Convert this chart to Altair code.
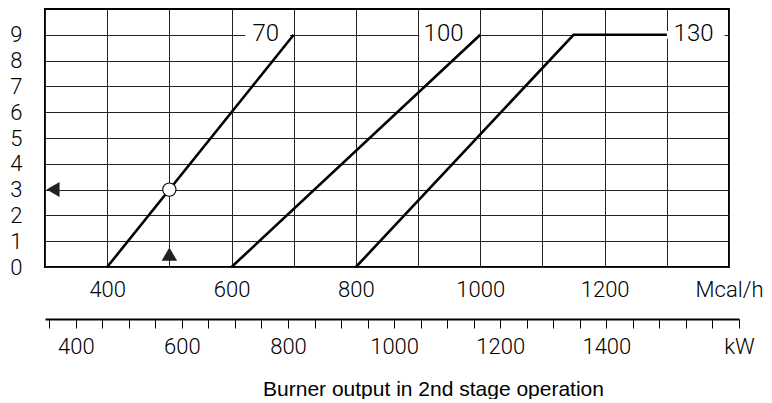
import altair as alt
import pandas as pd

# ---- data ----
series = ["70", "70", "100", "100", "130", "130", "130"]
mcal = [400, 700, 600, 1000, 800, 1150, 1300]
pressure = [0, 9, 0, 9, 0, 9, 9]

curve_labels = ["70", "100", "130"]
label_x = [655, 941, 1343]
label_y = [9, 9, 9]
gap_x1 = [622, 902, 1300]
gap_x2 = [694, 997, 1393]

circle_x, circle_y = [500], [3]
tri_left_x, tri_left_y = [313], [3]
tri_up_x, tri_up_y = [500], [0.5]

mcal_ticks = list(range(300, 1401, 100))
y_ticks = list(range(0, 10))
kw_ticks = list(range(350, 1651, 50))

FONT = "Roboto"
FW = 300
FS = 22

lines_df = pd.DataFrame({"series": series, "mcal": mcal, "p": pressure})
lab_df = pd.DataFrame({"t": curve_labels, "x": label_x, "y": label_y,
                       "x1": gap_x1, "x2": gap_x2})

xscale = alt.Scale(domain=[300, 1400], nice=False, zero=False)
yscale = alt.Scale(domain=[0, 10], nice=False, zero=True)

xaxis = alt.Axis(
    values=mcal_ticks, format="d", title=None,
    labelExpr="datum.value == 1400 ? 'Mcal/h' : ((datum.value % 200 == 0 && datum.value <= 1200) ? datum.label : '')",
    grid=True, gridColor="#222", gridWidth=1, domain=False, ticks=False,
    labelFont=FONT, labelFontWeight=FW, labelFontSize=FS, labelColor="#000",
    labelPadding=12, labelOverlap=False, labelFlush=False, labelBound=False,
)
yaxis = alt.Axis(
    values=y_ticks, title=None,
    grid=True, gridColor="#222", gridWidth=1, domain=False, ticks=False,
    labelFont=FONT, labelFontWeight=FW, labelFontSize=FS, labelColor="#000",
    labelPadding=23, labelOverlap=False, labelFlush=False, labelBound=False,
)


def X(field):
    return alt.X(field, scale=xscale, axis=xaxis, title=None)


def Y(field):
    return alt.Y(field, scale=yscale, axis=yaxis, title=None)


gaps = alt.Chart(lab_df).transform_calculate(
    ylo="datum.y - 0.15", yhi="datum.y + 0.15"
).mark_rect(color="white").encode(
    x=X("x1:Q"), x2="x2:Q", y=Y("ylo:Q"), y2="yhi:Q",
)

base_lines = alt.Chart(lines_df).mark_line(color="black", strokeWidth=2.6).encode(
    x=X("mcal:Q"), y=Y("p:Q"), detail="series:N",
)

texts = alt.Chart(lab_df).mark_text(
    font=FONT, fontWeight=FW, fontSize=24, color="black", baseline="middle", align="center", dy=-1
).encode(x=X("x:Q"), y=Y("y:Q"), text="t:N")

circ = alt.Chart(pd.DataFrame({"x": circle_x, "y": circle_y})).mark_point(
    shape="circle", size=177, filled=True, fill="white", stroke="black", strokeWidth=1.1, opacity=1
).encode(x=X("x:Q"), y=Y("y:Q"))

tl = alt.Chart(pd.DataFrame({"x": tri_left_x, "y": tri_left_y})).mark_point(
    shape="triangle-left", size=225, filled=True, color="#222", opacity=1
).encode(x=X("x:Q"), y=Y("y:Q"))

tu = alt.Chart(pd.DataFrame({"x": tri_up_x, "y": tri_up_y})).mark_point(
    shape="triangle-up", size=240, filled=True, color="#222", opacity=1
).encode(x=X("x:Q"), y=Y("y:Q"))

main = alt.layer(gaps, base_lines, texts, circ, tl, tu).properties(
    width=684, height=258,
    view=alt.ViewBackground(stroke="black", strokeWidth=2),
)

kw_df = pd.DataFrame({"kw": kw_ticks})
kw = alt.Chart(kw_df).mark_point(opacity=0).encode(
    x=alt.X("kw:Q", scale=alt.Scale(domain=[342, 1650], nice=False, zero=False),
            axis=alt.Axis(
                values=kw_ticks, format="d", orient="bottom",
                labelExpr="datum.value == 1650 ? 'kW' : ((datum.value % 200 == 0 && datum.value <= 1400) ? datum.label : '')",
                grid=False, domain=True, domainColor="black", domainWidth=2.2,
                ticks=True, tickSize=9, tickColor="black", tickWidth=1,
                labelFont=FONT, labelFontWeight=FW, labelFontSize=FS, labelColor="#000",
                labelPadding=8, labelOverlap=False, labelFlush=False, labelBound=False,
                title="Burner output in 2nd stage operation",
                titleFont="Liberation Sans", titleFontSize=21, titleFontWeight="normal",
                titleColor="black", titlePadding=21, titleX=388, titleAnchor="middle",
            )),
).properties(width=694, height=1, view=alt.ViewBackground(stroke=None, strokeWidth=0))

chart = alt.vconcat(main, kw, spacing=51, bounds="flush").properties(
    padding={"left": 0, "top": 0, "right": 0, "bottom": 0}
).configure_view(stroke=None)

chart.save("out.html", embed_options={"renderer": "svg", "actions": False})
